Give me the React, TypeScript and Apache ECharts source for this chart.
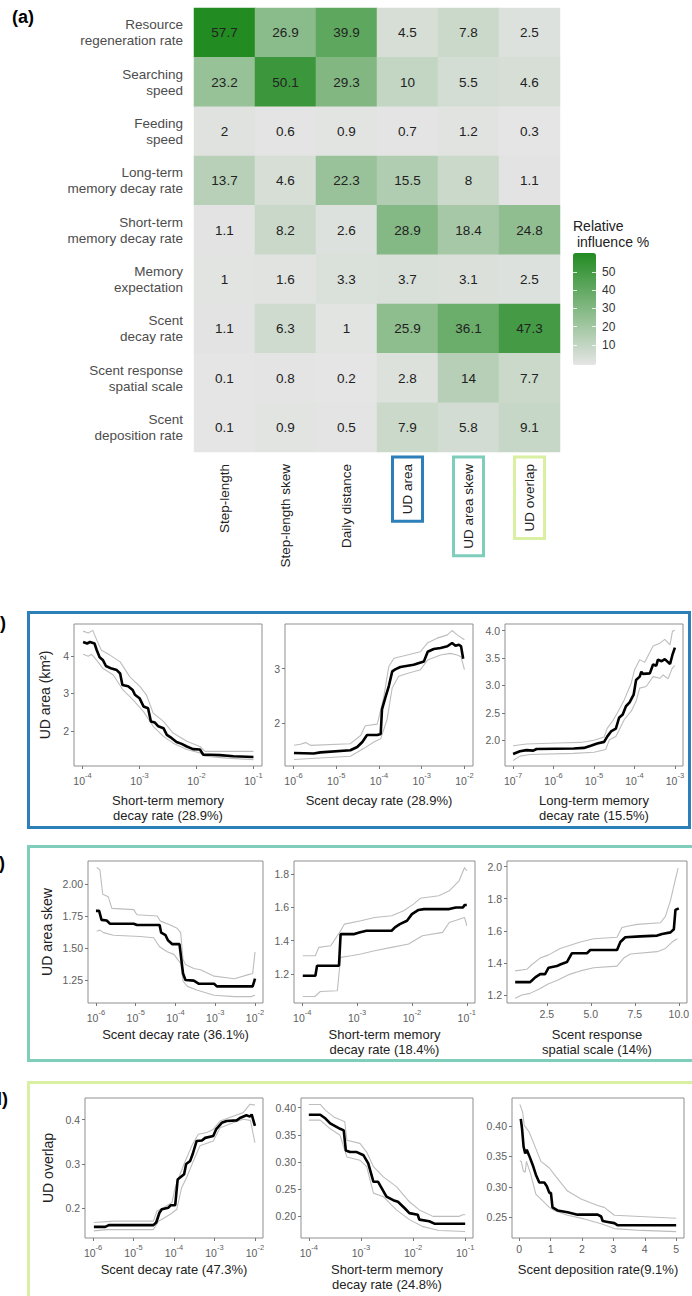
import React, { useEffect, useRef } from "react";
import * as echarts from "echarts";

type Pt = [number, number];

// ---------- (a) relative influence (%) of each parameter on each metric ----------
const parameterLabels = [
  "Resource\nregeneration rate",
  "Searching\nspeed",
  "Feeding\nspeed",
  "Long-term\nmemory decay rate",
  "Short-term\nmemory decay rate",
  "Memory\nexpectation",
  "Scent\ndecay rate",
  "Scent response\nspatial scale",
  "Scent\ndeposition rate",
];
const metricLabels = ["Step-length", "Step-length skew", "Daily distance", "UD area", "UD area skew", "UD overlap"];

const stepLength = [57.7, 23.2, 2, 13.7, 1.1, 1, 1.1, 0.1, 0.1];
const stepLengthSkew = [26.9, 50.1, 0.6, 4.6, 8.2, 1.6, 6.3, 0.8, 0.9];
const dailyDistance = [39.9, 29.3, 0.9, 22.3, 2.6, 3.3, 1, 0.2, 0.5];
const udArea = [4.5, 10, 0.7, 15.5, 28.9, 3.7, 25.9, 2.8, 7.9];
const udAreaSkew = [7.8, 5.5, 1.2, 8, 18.4, 3.1, 36.1, 14, 5.8];
const udOverlap = [2.5, 4.6, 0.3, 1.1, 24.8, 2.5, 47.3, 7.7, 9.1];
const influenceColumns = [stepLength, stepLengthSkew, dailyDistance, udArea, udAreaSkew, udOverlap];
const colorbarTicks = [10, 20, 30, 40, 50];
// value span covered by the colour bar's tick scale (bar drawn slightly past the data range)
const colorbarScale = [-1, 60.4];

// ---------- partial dependence curves (x on log10 scale where noted) ----------
const b1Mean: Pt[] = [[-3.99,4.37],[-3.92,4.33],[-3.87,4.37],[-3.79,4.33],[-3.75,4.15],[-3.70,3.96],[-3.64,3.88],[-3.59,3.73],[-3.49,3.66],[-3.40,3.62],[-3.34,3.53],[-3.30,3.22],[-3.20,3.19],[-3.12,3.09],[-3.08,2.96],[-3.00,2.87],[-2.93,2.65],[-2.85,2.60],[-2.80,2.25],[-2.73,2.22],[-2.67,2.12],[-2.58,2.07],[-2.52,1.89],[-2.44,1.81],[-2.35,1.70],[-2.26,1.65],[-2.17,1.58],[-2.06,1.51],[-1.94,1.50],[-1.88,1.36],[-1.76,1.36],[-1.59,1.35],[-1.35,1.32],[-1.0,1.30]];
const b1Upper: Pt[] = [[-3.99,4.66],[-3.90,4.61],[-3.82,4.68],[-3.75,4.42],[-3.67,4.15],[-3.52,4.02],[-3.34,3.84],[-3.17,3.44],[-2.99,3.18],[-2.88,2.96],[-2.76,2.47],[-2.58,2.25],[-2.41,1.94],[-2.17,1.72],[-1.94,1.58],[-1.85,1.45],[-1.47,1.45],[-1.0,1.45]];
const b1Lower: Pt[] = [[-3.99,4.04],[-3.90,3.99],[-3.84,4.04],[-3.75,3.88],[-3.64,3.66],[-3.46,3.49],[-3.29,3.09],[-3.11,2.82],[-2.93,2.51],[-2.76,2.12],[-2.58,1.85],[-2.41,1.67],[-2.17,1.50],[-1.94,1.41],[-1.85,1.32],[-1.47,1.27],[-1.0,1.23]];

const b2Mean: Pt[] = [[-5.99,1.45],[-5.53,1.44],[-5.37,1.46],[-4.67,1.50],[-4.51,1.56],[-4.39,1.65],[-4.28,1.78],[-4.04,1.78],[-3.96,1.80],[-3.93,2.25],[-3.85,2.47],[-3.77,2.68],[-3.69,2.95],[-3.61,2.99],[-3.50,3.03],[-3.19,3.07],[-2.95,3.13],[-2.86,3.31],[-2.72,3.36],[-2.56,3.38],[-2.40,3.41],[-2.29,3.47],[-2.21,3.42],[-2.13,3.44],[-2.08,3.41],[-2.03,3.18]];
const b2Upper: Pt[] = [[-5.99,1.59],[-5.84,1.61],[-5.72,1.64],[-5.6,1.59],[-4.67,1.62],[-4.43,1.77],[-4.32,1.95],[-4.04,1.98],[-3.89,2.47],[-3.77,3.04],[-3.65,3.19],[-3.34,3.25],[-3.03,3.31],[-2.87,3.47],[-2.64,3.56],[-2.40,3.62],[-2.29,3.70],[-2.17,3.62],[-2.0,3.53]];
const b2Lower: Pt[] = [[-5.99,1.33],[-4.67,1.39],[-4.36,1.53],[-4.12,1.65],[-3.96,1.71],[-3.81,2.07],[-3.69,2.65],[-3.54,2.86],[-3.34,2.91],[-3.03,2.98],[-2.86,3.16],[-2.56,3.25],[-2.33,3.28],[-2.17,3.25],[-2.08,3.22],[-2.0,2.98]];

const b3Mean: Pt[] = [[-7,1.75],[-6.83,1.80],[-6.67,1.82],[-6.5,1.81],[-6.42,1.84],[-5.5,1.85],[-5.25,1.86],[-5.08,1.90],[-4.92,1.94],[-4.75,1.97],[-4.67,2.07],[-4.58,2.16],[-4.46,2.21],[-4.38,2.41],[-4.29,2.47],[-4.21,2.62],[-4.12,2.69],[-4.02,2.83],[-3.96,3.10],[-3.87,3.16],[-3.83,3.25],[-3.79,3.21],[-3.62,3.22],[-3.54,3.38],[-3.46,3.36],[-3.42,3.47],[-3.33,3.44],[-3.25,3.48],[-3.12,3.39],[-3.06,3.56],[-3.0,3.69]];
const b3Upper: Pt[] = [[-7,1.90],[-6.67,1.93],[-5.92,1.95],[-5.33,1.96],[-5.0,2.0],[-4.75,2.06],[-4.67,2.22],[-4.54,2.35],[-4.42,2.50],[-4.25,2.74],[-4.08,3.04],[-4.0,3.28],[-3.87,3.47],[-3.75,3.42],[-3.54,3.72],[-3.37,3.77],[-3.25,3.84],[-3.12,3.74],[-3.06,3.99],[-3.0,4.0]];
const b3Lower: Pt[] = [[-7,1.63],[-6.83,1.71],[-6.58,1.74],[-5.5,1.76],[-5.0,1.78],[-4.71,1.83],[-4.62,2.01],[-4.46,2.07],[-4.25,2.38],[-4.08,2.53],[-3.96,2.71],[-3.87,2.95],[-3.71,2.98],[-3.54,3.16],[-3.37,3.13],[-3.29,3.19],[-3.17,3.12],[-3.06,3.32],[-3.0,3.36]];

const c1Mean: Pt[] = [[-6,1.79],[-5.92,1.79],[-5.86,1.72],[-5.73,1.715],[-5.65,1.69],[-5.05,1.69],[-4.97,1.68],[-4.40,1.68],[-4.36,1.62],[-4.25,1.60],[-4.19,1.56],[-4.08,1.53],[-3.90,1.53],[-3.81,1.30],[-3.75,1.25],[-3.54,1.245],[-3.41,1.22],[-3.03,1.22],[-2.96,1.20],[-2.52,1.20],[-2.06,1.20],[-2.0,1.26]];
const c1Upper: Pt[] = [[-5.98,2.13],[-5.90,2.11],[-5.83,1.92],[-5.69,1.90],[-5.60,1.81],[-5.05,1.80],[-4.97,1.76],[-4.46,1.75],[-4.38,1.71],[-4.13,1.68],[-3.96,1.655],[-3.87,1.62],[-3.81,1.41],[-3.75,1.37],[-3.54,1.34],[-3.37,1.33],[-3.03,1.28],[-2.52,1.26],[-2.19,1.29],[-2.06,1.30],[-2.0,1.47]];
const c1Lower: Pt[] = [[-5.98,1.63],[-5.90,1.64],[-5.81,1.62],[-5.56,1.60],[-4.89,1.59],[-4.55,1.58],[-4.40,1.51],[-4.21,1.47],[-4.04,1.45],[-3.87,1.38],[-3.81,1.24],[-3.70,1.20],[-3.45,1.17],[-3.03,1.13],[-2.52,1.12],[-2.10,1.12],[-2.0,1.13]];

const c2Mean: Pt[] = [[-3.99,1.19],[-3.76,1.19],[-3.73,1.25],[-3.33,1.25],[-3.30,1.44],[-3.05,1.44],[-2.96,1.45],[-2.83,1.46],[-2.37,1.46],[-2.31,1.48],[-2.22,1.50],[-2.09,1.52],[-2.0,1.56],[-1.88,1.585],[-1.78,1.59],[-1.32,1.59],[-1.20,1.60],[-1.07,1.60],[-1.04,1.615],[-1.0,1.615]];
const c2Upper: Pt[] = [[-3.99,1.31],[-3.76,1.31],[-3.70,1.36],[-3.48,1.37],[-3.30,1.46],[-3.23,1.50],[-2.93,1.52],[-2.68,1.54],[-2.37,1.55],[-2.15,1.58],[-1.97,1.62],[-1.85,1.655],[-1.51,1.67],[-1.32,1.70],[-1.14,1.76],[-1.04,1.84],[-1.0,1.82]];
const c2Lower: Pt[] = [[-3.99,1.065],[-3.77,1.065],[-3.67,1.095],[-3.36,1.10],[-3.30,1.30],[-3.11,1.31],[-2.93,1.32],[-2.68,1.34],[-2.37,1.36],[-2.06,1.38],[-1.81,1.43],[-1.44,1.45],[-1.32,1.51],[-1.04,1.54],[-1.0,1.49]];

const c3Mean: Pt[] = [[0.70,1.28],[1.55,1.28],[1.65,1.29],[1.84,1.31],[2.12,1.33],[2.40,1.33],[2.60,1.37],[3.07,1.38],[3.26,1.39],[3.64,1.405],[3.92,1.46],[4.78,1.46],[4.97,1.48],[6.49,1.48],[6.68,1.53],[6.96,1.56],[7.82,1.565],[8.77,1.57],[9.05,1.58],[9.53,1.59],[9.72,1.61],[9.81,1.73],[10.0,1.74]];
const c3Upper: Pt[] = [[0.70,1.35],[1.36,1.36],[1.65,1.39],[2.12,1.43],[2.60,1.45],[3.26,1.49],[3.83,1.51],[4.40,1.53],[5.16,1.55],[6.49,1.56],[6.77,1.62],[7.15,1.63],[7.63,1.64],[8.96,1.65],[9.24,1.69],[9.53,1.79],[9.72,1.88],[9.96,1.99]];
const c3Lower: Pt[] = [[0.70,1.18],[1.08,1.20],[1.55,1.21],[2.12,1.24],[2.60,1.27],[3.07,1.29],[3.83,1.33],[4.40,1.35],[5.16,1.37],[6.49,1.38],[6.87,1.43],[7.25,1.455],[8.77,1.47],[9.24,1.49],[9.62,1.53],[9.91,1.55]];

const d1Mean: Pt[] = [[-5.98,0.158],[-5.70,0.158],[-5.61,0.162],[-4.51,0.162],[-4.44,0.168],[-4.36,0.190],[-4.30,0.198],[-4.14,0.2015],[-4.08,0.207],[-3.97,0.207],[-3.91,0.265],[-3.75,0.277],[-3.70,0.30],[-3.60,0.307],[-3.54,0.322],[-3.44,0.352],[-3.31,0.353],[-3.23,0.359],[-3.03,0.363],[-2.96,0.378],[-2.82,0.393],[-2.70,0.397],[-2.45,0.3985],[-2.37,0.404],[-2.21,0.41],[-2.12,0.407],[-2.08,0.412],[-2.0,0.386]];
const d1Upper: Pt[] = [[-5.98,0.168],[-5.66,0.170],[-5.49,0.171],[-4.51,0.171],[-4.42,0.194],[-4.26,0.2015],[-4.05,0.213],[-3.97,0.247],[-3.85,0.277],[-3.72,0.307],[-3.56,0.341],[-3.40,0.367],[-3.19,0.371],[-3.03,0.378],[-2.86,0.397],[-2.54,0.408],[-2.29,0.416],[-2.12,0.435],[-2.0,0.433]];
const d1Lower: Pt[] = [[-5.98,0.149],[-5.66,0.152],[-4.51,0.152],[-4.38,0.171],[-4.09,0.1865],[-3.93,0.198],[-3.81,0.247],[-3.69,0.269],[-3.52,0.307],[-3.36,0.341],[-3.03,0.352],[-2.86,0.382],[-2.54,0.393],[-2.29,0.401],[-2.11,0.3985],[-2.0,0.348]];

const d2Mean: Pt[] = [[-4.0,0.387],[-3.78,0.387],[-3.68,0.38],[-3.59,0.371],[-3.40,0.361],[-3.33,0.358],[-3.29,0.321],[-3.21,0.318],[-3.08,0.318],[-2.95,0.312],[-2.86,0.297],[-2.76,0.263],[-2.67,0.263],[-2.60,0.251],[-2.51,0.2355],[-2.38,0.229],[-2.29,0.226],[-2.16,0.214],[-2.07,0.205],[-1.91,0.202],[-1.88,0.193],[-1.69,0.19],[-1.59,0.1855],[-1.0,0.1855]];
const d2Upper: Pt[] = [[-4.0,0.406],[-3.78,0.406],[-3.68,0.395],[-3.52,0.383],[-3.31,0.374],[-3.27,0.34],[-3.02,0.334],[-2.89,0.318],[-2.76,0.291],[-2.57,0.272],[-2.32,0.254],[-2.07,0.226],[-1.88,0.211],[-1.62,0.199],[-1.12,0.199],[-1.05,0.202],[-1.0,0.202]];
const d2Lower: Pt[] = [[-4.0,0.377],[-3.78,0.377],[-3.59,0.361],[-3.40,0.349],[-3.27,0.309],[-3.02,0.303],[-2.89,0.291],[-2.76,0.242],[-2.57,0.2355],[-2.32,0.211],[-2.07,0.193],[-1.81,0.18],[-1.50,0.173],[-1.0,0.171]];

const d3Mean: Pt[] = [[0.05,0.412],[0.09,0.396],[0.14,0.366],[0.19,0.355],[0.24,0.361],[0.32,0.351],[0.43,0.336],[0.53,0.32],[0.64,0.307],[0.80,0.307],[0.88,0.301],[0.96,0.29],[1.01,0.29],[1.06,0.266],[1.22,0.261],[1.54,0.258],[1.86,0.254],[2.50,0.254],[2.61,0.251],[2.66,0.2435],[2.82,0.242],[3.03,0.240],[3.14,0.2365],[5.0,0.2365]];
const d3Upper: Pt[] = [[0.02,0.436],[0.11,0.423],[0.16,0.401],[0.21,0.398],[0.32,0.390],[0.53,0.363],[0.69,0.342],[0.96,0.331],[1.12,0.320],[1.54,0.293],[1.97,0.28],[2.50,0.269],[2.71,0.266],[3.03,0.253],[5.0,0.248]];
const d3Lower: Pt[] = [[0.02,0.343],[0.07,0.341],[0.13,0.326],[0.19,0.324],[0.23,0.342],[0.37,0.32],[0.53,0.288],[0.74,0.277],[0.96,0.266],[1.12,0.261],[1.54,0.253],[2.07,0.247],[2.61,0.239],[3.03,0.231],[3.88,0.228],[5.0,0.226]];

// ---------- tick values ----------
const decades4to1 = [-4, -3, -2, -1];
const decades6to2 = [-6, -5, -4, -3, -2];
const decades7to3 = [-7, -6, -5, -4, -3];
const b1YTicks = [2, 3, 4];
const b2YTicks = [2, 3];
const b3YTicks = [2.0, 2.5, 3.0, 3.5, 4.0];
const c1YTicks = [1.25, 1.5, 1.75, 2.0];
const c2YTicks = [1.2, 1.4, 1.6, 1.8];
const c3YTicks = [1.2, 1.4, 1.6, 1.8, 2.0];
const c3XTicks = [2.5, 5.0, 7.5, 10.0];
const d1YTicks = [0.2, 0.3, 0.4];
const d2YTicks = [0.2, 0.25, 0.3, 0.35, 0.4];
const d3YTicks = [0.25, 0.3, 0.35, 0.4];
const d3XTicks = [0, 1, 2, 3, 4, 5];

const FONT = "'Liberation Sans', Arial, Helvetica, sans-serif";
const TICK = "#5e5e5e";
const FRAME = "#8f8f8f";
const BLUE = "#2c7fb8";
const TEAL = "#7fcdbb";
const LIME = "#d9f0a3";

interface AxisSpec { min: number; max: number; ticks: number[]; log?: boolean; decimals?: number }
interface PlotSpec {
  box: [number, number, number, number];
  x: AxisSpec;
  y: AxisSpec;
  xName: string;
  xNameGap: number;
  yName?: string;
  yNameGap?: number;
  mean: Pt[];
  upper: Pt[];
  lower: Pt[];
}

const plots: PlotSpec[] = [
  { box: [74, 624, 188, 142], x: { min: -4.15, max: -0.85, ticks: decades4to1, log: true }, y: { min: 1.06, max: 4.85, ticks: b1YTicks, decimals: 0 },
    xName: "Short-term memory\ndecay rate (28.9%)", xNameGap: 27, yName: "UD area (km²)", yNameGap: 22, mean: b1Mean, upper: b1Upper, lower: b1Lower },
  { box: [285, 624, 188, 142], x: { min: -6.2, max: -1.8, ticks: decades6to2, log: true }, y: { min: 1.21, max: 3.82, ticks: b2YTicks, decimals: 0 },
    xName: "Scent decay rate (28.9%)", xNameGap: 27, mean: b2Mean, upper: b2Upper, lower: b2Lower },
  { box: [505, 624, 178, 142], x: { min: -7.2, max: -2.8, ticks: decades7to3, log: true }, y: { min: 1.53, max: 4.12, ticks: b3YTicks, decimals: 1 },
    xName: "Long-term memory\ndecay rate (15.5%)", xNameGap: 27, mean: b3Mean, upper: b3Upper, lower: b3Lower },
  { box: [88, 861, 175, 142], x: { min: -6.2, max: -1.8, ticks: decades6to2, log: true }, y: { min: 1.07, max: 2.18, ticks: c1YTicks, decimals: 2 },
    xName: "Scent decay rate (36.1%)", xNameGap: 24, yName: "UD area skew", yNameGap: 34, mean: c1Mean, upper: c1Upper, lower: c1Lower },
  { box: [294, 861, 181, 142], x: { min: -4.15, max: -0.85, ticks: decades4to1, log: true }, y: { min: 1.026, max: 1.879, ticks: c2YTicks, decimals: 1 },
    xName: "Short-term memory\ndecay rate (18.4%)", xNameGap: 24, mean: c2Mean, upper: c2Upper, lower: c2Lower },
  { box: [507, 861, 180, 142], x: { min: 0.235, max: 10.465, ticks: c3XTicks, decimals: 1 }, y: { min: 1.15, max: 2.035, ticks: c3YTicks, decimals: 1 },
    xName: "Scent response\nspatial scale (14%)", xNameGap: 24, mean: c3Mean, upper: c3Upper, lower: c3Lower },
  { box: [85, 1098, 178, 140], x: { min: -6.2, max: -1.8, ticks: decades6to2, log: true }, y: { min: 0.133, max: 0.449, ticks: d1YTicks, decimals: 1 },
    xName: "Scent decay rate (47.3%)", xNameGap: 24, yName: "UD overlap", yNameGap: 30, mean: d1Mean, upper: d1Upper, lower: d1Lower },
  { box: [301, 1098, 172, 140], x: { min: -4.15, max: -0.85, ticks: decades4to1, log: true }, y: { min: 0.159, max: 0.418, ticks: d2YTicks, decimals: 2 },
    xName: "Short-term memory\ndecay rate (24.8%)", xNameGap: 24, mean: d2Mean, upper: d2Upper, lower: d2Lower },
  { box: [512, 1098, 172, 140], x: { min: -0.23, max: 5.25, ticks: d3XTicks, decimals: 0 }, y: { min: 0.2155, max: 0.4465, ticks: d3YTicks, decimals: 2 },
    xName: "Scent deposition rate(9.1%)", xNameGap: 24, mean: d3Mean, upper: d3Upper, lower: d3Lower },
];

const boxedMetric: Record<string, string> = { "UD area": "ua", "UD area skew": "uas", "UD overlap": "uo" };

function buildOption() {
  const heatData = influenceColumns.flatMap((col, xi) => col.map((v, yi) => [xi, yi, v]));
  const allValues = influenceColumns.flat();
  const vMin = Math.min(...allValues);
  const vMax = Math.max(...allValues);

  const labelPad = [8, 7, 8, 7];
  const metricRich = {
    p: { fontSize: 13.5, color: "#222", padding: labelPad, fontFamily: FONT },
    ua: { fontSize: 13.5, color: "#222", padding: labelPad, borderColor: BLUE, borderWidth: 3, fontFamily: FONT },
    uas: { fontSize: 13.5, color: "#222", padding: labelPad, borderColor: TEAL, borderWidth: 3, fontFamily: FONT },
    uo: { fontSize: 13.5, color: "#222", padding: labelPad, borderColor: LIME, borderWidth: 3, fontFamily: FONT },
  };

  const grids: any[] = [
    { left: 194, top: 8, width: 366, height: 444, show: false },
    { left: 573, top: 253, width: 23, height: 112, show: false },
  ];
  const xAxes: any[] = [
    {
      gridIndex: 0, type: "category", data: metricLabels, position: "bottom",
      axisLine: { show: false, onZero: false }, axisTick: { show: false }, splitLine: { show: false },
      axisLabel: {
        interval: 0, rotate: 90, margin: 5, color: "#222",
        formatter: (v: string) => `{${boxedMetric[v] ?? "p"}|${v}}`,
        rich: metricRich,
      },
    },
    { gridIndex: 1, type: "value", show: false, min: 0, max: 1, axisLine: { onZero: false } },
  ];
  const colorbarAxis = (position: "left" | "right", labels: boolean) => ({
    gridIndex: 1, type: "value", position, min: colorbarScale[0], max: colorbarScale[1], z: 10,
    axisLine: { show: false, onZero: false }, splitLine: { show: false },
    axisTick: { show: true, inside: true, length: 4, customValues: colorbarTicks, lineStyle: { color: "#ffffff", width: 1, opacity: 0.8 } },
    axisLabel: {
      show: labels, customValues: colorbarTicks, margin: 6, color: "#333",
      formatter: (v: number) => `{t|${v}}`,
      rich: { t: { fontSize: 12, color: "#333333", fontFamily: FONT } },
    },
  });
  const yAxes: any[] = [
    {
      gridIndex: 0, type: "category", data: parameterLabels, inverse: true,
      axisLine: { show: false, onZero: false }, axisTick: { show: false }, splitLine: { show: false },
      axisLabel: { margin: 11, fontSize: 13.5, lineHeight: 16, color: "#4d4d4d", fontFamily: FONT, interval: 0 },
    },
    colorbarAxis("left", false),
    colorbarAxis("right", true),
  ];

  const series: any[] = [
    {
      type: "heatmap", xAxisIndex: 0, yAxisIndex: 0, data: heatData,
      label: { show: true, formatter: (p: any) => String(p.value[2]), fontSize: 13.5, color: "#222", fontFamily: FONT },
      emphasis: { disabled: true }, silent: true,
    },
  ];

  const logRich = {
    b: { fontSize: 10.5, color: TICK, lineHeight: 15, verticalAlign: "bottom", fontFamily: FONT },
    s: { fontSize: 7.5, color: TICK, lineHeight: 9, verticalAlign: "top", fontFamily: FONT },
  };

  plots.forEach((p, i) => {
    const gi = 2 + i;
    grids.push({ left: p.box[0], top: p.box[1], width: p.box[2], height: p.box[3], show: true, borderColor: FRAME, borderWidth: 1, backgroundColor: "#ffffff" });
    xAxes.push({
      gridIndex: gi, type: "value", min: p.x.min, max: p.x.max, position: "bottom",
      axisLine: { show: false, onZero: false }, splitLine: { show: false },
      axisTick: { show: true, length: 3, customValues: p.x.ticks, lineStyle: { color: "#777" } },
      axisLabel: p.x.log
        ? { customValues: p.x.ticks, margin: 5, color: TICK, formatter: (v: number) => `{b|10}{s|${Math.round(v)}}`, rich: logRich }
        : { customValues: p.x.ticks, margin: 5, fontSize: 10.5, color: TICK, fontFamily: FONT, formatter: (v: number) => v.toFixed(p.x.decimals ?? 0) },
      name: p.xName, nameLocation: "middle", nameGap: p.xNameGap,
      nameTextStyle: { fontSize: 13, lineHeight: 15, color: "#222", fontFamily: FONT },
    });
    yAxes.push({
      gridIndex: gi, type: "value", min: p.y.min, max: p.y.max, position: "left",
      axisLine: { show: false, onZero: false }, splitLine: { show: false },
      axisTick: { show: true, length: 3, customValues: p.y.ticks, lineStyle: { color: "#777" } },
      axisLabel: { customValues: p.y.ticks, margin: 5, fontSize: 10.5, color: TICK, fontFamily: FONT, formatter: (v: number) => v.toFixed(p.y.decimals ?? 0) },
      name: p.yName ?? "", nameLocation: "middle", nameGap: p.yNameGap ?? 0,
      nameTextStyle: { fontSize: 14, color: "#222", fontFamily: FONT },
    });
    const yi = 3 + i;
    [p.upper, p.lower].forEach((d) =>
      series.push({ type: "line", xAxisIndex: gi, yAxisIndex: yi, data: d, symbol: "none", silent: true, lineStyle: { color: "#bdbdbd", width: 1.1 } })
    );
    series.push({ type: "line", xAxisIndex: gi, yAxisIndex: yi, data: p.mean, symbol: "none", silent: true, lineStyle: { color: "#000000", width: 2.6 } });
  });

  const panelLabel = (text: string, x: number, y: number, align: string) => ({
    type: "text", x, y,
    style: { text, fontSize: 18, fontWeight: "bold", fontFamily: FONT, fill: "#000", align, verticalAlign: "middle" },
  });
  const panelBox = (y: number, h: number, w: number, color: string) => ({
    type: "rect", shape: { x: 28.5, y, width: w, height: h },
    style: { fill: "none", stroke: color, lineWidth: 3 },
  });

  return {
    animation: false,
    backgroundColor: "#ffffff",
    textStyle: { fontFamily: FONT, color: "#222" },
    grid: grids,
    xAxis: xAxes,
    yAxis: yAxes,
    visualMap: {
      type: "continuous", seriesIndex: 0, dimension: 2, min: vMin, max: vMax,
      inRange: { color: ["#e5e5e5", "#228b22"] },
      left: 573, top: 253, itemWidth: 23, itemHeight: 112, padding: 0,
      calculable: false, text: null, showLabel: false, realtime: false, hoverLink: false,
    },
    graphic: [
      panelLabel("(a)", 12, 17, "left"),
      panelLabel("(b)", 6, 623, "right"),
      panelLabel("(c)", 5, 863, "right"),
      panelLabel("(d)", 8, 1099, "right"),
      {
        type: "text", x: 573, y: 218,
        style: { text: "Relative\n influence %", fontSize: 14, lineHeight: 16, fontFamily: FONT, fill: "#222", align: "left", verticalAlign: "top" },
      },
      panelBox(612.5, 215, 661, BLUE),
      panelBox(846.5, 214, 690, TEAL),
      panelBox(1082.5, 240, 690, LIME),
    ],
    series,
  };
}

export default function App() {
  const ref = useRef<HTMLDivElement>(null);
  useEffect(() => {
    document.body.style.margin = "0";
    document.body.style.background = "#ffffff";
    if (!ref.current) return;
    const chart = echarts.init(ref.current, undefined, { renderer: "svg" });
    chart.setOption(buildOption() as any);
    return () => chart.dispose();
  }, []);
  return <div ref={ref} style={{ width: 692, height: 1296 }} />;
}
